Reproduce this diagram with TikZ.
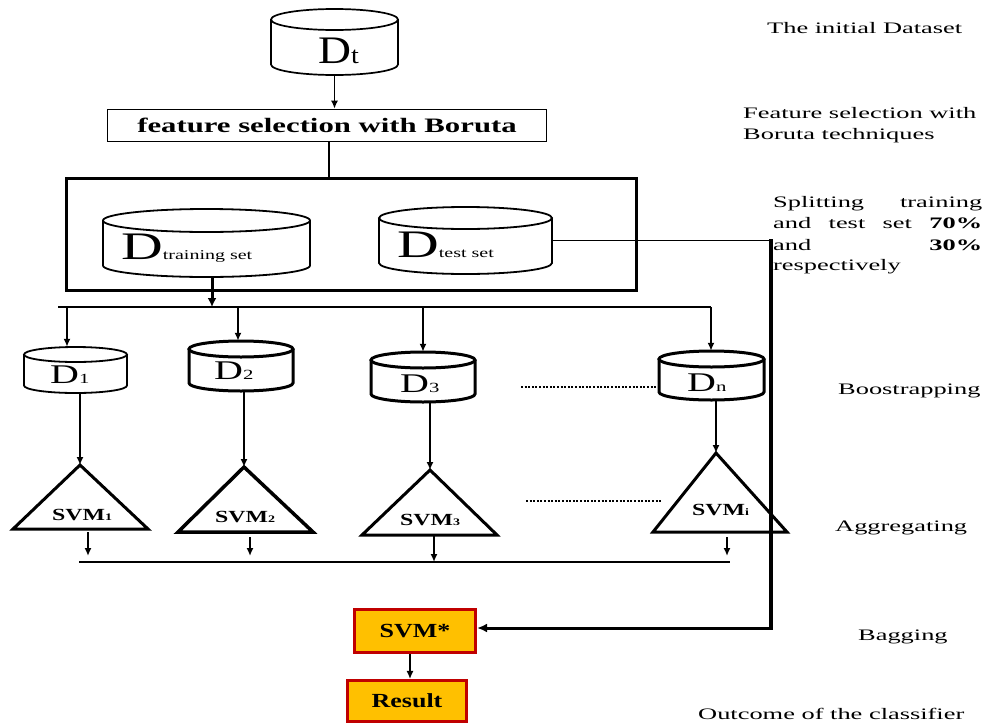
\documentclass[tikz,border=0pt]{standalone}
\usepackage{fontspec}
\setmainfont{Liberation Serif}
\newfontfamily\fwide{Liberation Serif}[FakeStretch=1.65]
\newfontfamily\fselbox{Liberation Serif}[FakeStretch=1.5]
\newfontfamily\fdee{Liberation Serif}[FakeStretch=1.48]
\newfontfamily\fdt{Liberation Serif}[FakeStretch=1.17]
\newfontfamily\fsvm{Liberation Serif}[FakeStretch=1.4]
\newfontfamily\fres{Liberation Serif}[FakeStretch=1.3]
\usetikzlibrary{arrows.meta}
\definecolor{boxfill}{HTML}{FFC000}
\definecolor{boxline}{HTML}{C00000}
% #1 name, #2 cx, #3 top, #4 bottom, #5 half width, #6 y radius, #7 line width
\newcommand\mycyl[7]{%
  \node[inner sep=0pt, minimum width={2*#5*1pt}, minimum height={(#4-#3)*1pt}] (#1) at ({#2},{(#3+#4)/2}) {};
  \draw[line width=#7] ({#2},{#3+#6}) ellipse [x radius=#5, y radius=#6];
  \draw[line width=#7] ({#2-#5},{#3+#6}) -- ({#2-#5},{#4-#6}) arc [start angle=180, end angle=0, x radius=#5, y radius=#6] -- ({#2+#5},{#3+#6});
}
\begin{document}
\begin{tikzpicture}[x=1pt, y=-1pt,
  conn/.style={line width=1.6pt},
  arr/.style={conn, -{Latex[length=8pt,width=7pt]}},
  lbl/.style={anchor=base west, inner sep=0pt, font=\fwide\fontsize{16}{16}\selectfont},
  txt/.style={anchor=base west, inner sep=0pt},
  dotline/.style={line width=1.6pt, dash pattern=on 2pt off 1.6pt},
  tri/.style={line width=3pt, line join=miter},
  outbox/.style={draw=boxline, fill=boxfill, line width=3.2pt, inner sep=0pt, font=\fres\bfseries\fontsize{20}{20}\selectfont}]
\useasboundingbox (0,0) rectangle (988,726);

% initial dataset
\mycyl{dt}{334.5}{9}{75}{63.5}{10.5}{1.7pt}
\node[txt] (dtl) at (318,63) {\fdt\fontsize{39}{39}\selectfont D\fontsize{24}{24}\selectfont t};

% feature selection box
\node[draw, line width=1.6pt, minimum width=439pt, minimum height=32pt, inner sep=0pt,
      font=\fselbox\bfseries\fontsize{20.5}{20.5}\selectfont] (fs) at (327,125.5) {feature selection with Boruta};
\draw[arr] (dt.south) -- (dt.south |- fs.north);

% splitting box
\node[draw, line width=3.5pt, minimum width=570pt, minimum height=112pt, inner sep=0pt] (big) at (351.5,234.5) {};
\draw[line width=2.4pt] ([xshift=2pt]fs.south) -- ([xshift=2pt]fs.south |- big.north);

\mycyl{dtr}{206.5}{209}{277}{103.5}{11.5}{1.8pt}
\node[txt] (dtrl) at (121,259) {\fdee\fontsize{39}{39}\selectfont D\fontsize{13.5}{13.5}\selectfont training set};
\mycyl{dte}{465.5}{207}{274}{86.5}{11}{1.8pt}
\node[txt] (dtel) at (397,257) {\fdee\fontsize{39}{39}\selectfont D\fontsize{13.5}{13.5}\selectfont test set};

% bus
\coordinate (busL) at (58,307);
\coordinate (busR) at (711,307);
\draw[line width=1.8pt] (busL) -- (busR);
\draw[line width=3pt, -{Latex[length=9pt,width=9pt]}] ([xshift=5.5pt]dtr.south) -- ([xshift=5.5pt]dtr.south |- busL);

% bootstrap samples
\mycyl{d1}{75.5}{347}{393}{51.5}{7.5}{1.8pt}
\mycyl{d2}{241}{341}{391}{52}{8}{3pt}
\mycyl{d3}{423}{352}{402}{52}{8}{3pt}
\mycyl{dn}{711.5}{351}{400}{52.5}{8}{3pt}
\node[txt] (d1l) at (50,383) {\fdee\fontsize{27}{27}\selectfont D\fontsize{14}{14}\selectfont 1};
\node[txt] (d2l) at (214,379) {\fdee\fontsize{27}{27}\selectfont D\fontsize{14}{14}\selectfont 2};
\node[txt] (d3l) at (400,392) {\fdee\fontsize{27}{27}\selectfont D\fontsize{14}{14}\selectfont 3};
\node[txt] (dnl) at (687,391) {\fdee\fontsize{27}{27}\selectfont D\fontsize{14}{14}\selectfont n};

\coordinate (b1) at (67,307);
\coordinate (b2) at (238,307);
\coordinate (b3) at (423,307);
\draw[arr] (b1) -- (b1 |- d1.north);
\draw[arr] (b2) -- (b2 |- d2.north);
\draw[arr] (b3) -- (b3 |- d3.north);
\draw[arr] (busR) -- (busR |- dn.north);

\coordinate (dot1) at (521,387);
\draw[dotline] (dot1) -- (dot1 -| dn.west);

% classifiers
\coordinate (t1) at (80,465);
\coordinate (t2) at (244,467);
\coordinate (t3) at (430,470);
\coordinate (ti) at (716,453);
\draw[tri] (t1) -- (13,529) -- (148,529) -- cycle;
\draw[tri, line width=3.5pt] (t2) -- (178,532) -- (313,532) -- cycle;
\draw[tri] (t3) -- (362,535) -- (497,535) -- cycle;
\draw[tri] (ti) -- (653,532) -- (787,532) -- cycle;
\draw[arr] (t1 |- d1.south) -- (t1);
\draw[arr] (t2 |- d2.south) -- (t2);
\draw[arr] (t3 |- d3.south) -- (t3);
\draw[arr] (ti |- dn.south) -- (ti);

\node[txt] (s1l) at (52,520) {\fsvm\bfseries\fontsize{17}{17}\selectfont SVM\fontsize{10}{10}\selectfont 1};
\node[txt] (s2l) at (215,522) {\fsvm\bfseries\fontsize{17}{17}\selectfont SVM\fontsize{10}{10}\selectfont 2};
\node[txt] (s3l) at (400,525) {\fsvm\bfseries\fontsize{17}{17}\selectfont SVM\fontsize{10}{10}\selectfont 3};
\node[txt] (sil) at (692,515) {\fsvm\bfseries\fontsize{17}{17}\selectfont SVM\fontsize{10}{10}\selectfont i};

\coordinate (dot2) at (526,501);
\coordinate (dot2e) at (662,501);
\draw[dotline] (dot2) -- (dot2e);

% aggregation
\coordinate (agL) at (79,562);
\coordinate (agR) at (730,562);
\draw[line width=1.8pt] (agL) -- (agR);
\coordinate (a1) at (88,532);
\coordinate (a2) at (250,537);
\coordinate (a3) at (434,536);
\coordinate (ai) at (727,537);
\draw[arr, shorten >=6pt] (a1) -- (a1 |- agL);
\draw[arr, shorten >=6pt] (a2) -- (a2 |- agL);
\draw[arr] (a3) -- (a3 |- agL);
\draw[arr, shorten >=6pt] (ai) -- (ai |- agL);

% bagging
\node[outbox, minimum width=121pt, minimum height=43pt] (svm) at (415,631) {SVM*};
\node[outbox, minimum width=119pt, minimum height=41pt] (res) at (407,701) {Result};
\coordinate (vtop) at (771,240);
\coordinate (vbot) at (771,628);
\draw[conn] (dte.east) -- (dte.east -| vtop);
\draw[line width=3.5pt] ([yshift=1pt]vtop) -- (vbot);
\draw[line width=3pt, -{Latex[length=10pt,width=9pt]}] ([xshift=1.75pt]vbot) -- (vbot -| svm.east);
\draw[line width=1.2pt, -{Latex[length=8pt,width=7pt]}] ([xshift=-5pt]svm.south) -- ([xshift=-5pt]svm.south |- res.north);

% right-hand labels
\node[lbl] (l1) at (767,33) {The initial Dataset};
\node[lbl] (l2a) at (743,118) {Feature selection with};
\node[lbl] (l2b) at (743,139) {Boruta techniques};
\node[lbl] (l3a) at (773,207) {\makebox[209pt][s]{Splitting\hfill training}};
\node[lbl] (l3b) at (773,228) {\makebox[209pt][s]{and\hfill test\hfill set\hfill \textbf{70\%}}};
\node[lbl] (l3c) at (773,250) {\makebox[209pt][s]{and\hfill \textbf{30\%}}};
\node[lbl] (l3d) at (773,270) {respectively};
\node[lbl] (l4) at (838,394) {Boostrapping};
\node[lbl] (l5) at (835,531) {Aggregating};
\node[lbl] (l6) at (858,640) {Bagging};
\node[lbl] (l7) at (698,719) {Outcome of the classifier};
\end{tikzpicture}
\end{document}
